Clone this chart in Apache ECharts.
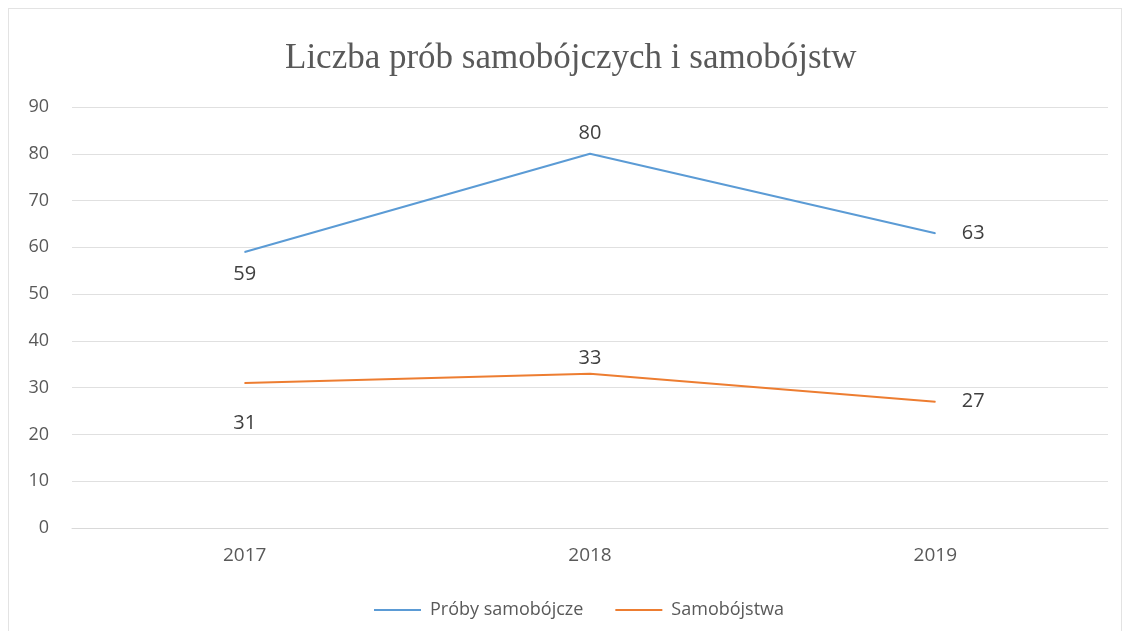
<!DOCTYPE html>
<html><head><meta charset="utf-8">
<script src="https://cdn.jsdelivr.net/npm/echarts@6/dist/echarts.min.js"></script>
<style>
html,body{margin:0;padding:0;background:#fff;}
#c{width:1130px;height:631px;}
#frame{position:absolute;left:8px;top:8px;width:1112px;height:640px;border:1px solid #e3e3e3;pointer-events:none;}
</style></head>
<body>
<div id="c"></div>
<div id="frame"></div>
<script>
const categories = ['2017', '2018', '2019'];
const proby = [59, 80, 63];
const samobojstwa = [31, 33, 27];
const yTicks = [0, 10, 20, 30, 40, 50, 60, 70, 80, 90];

// label placement per point (style only)
const probyLabelPos = [['bottom', 12], ['top', 10], ['right', 26]];
const samLabelPos = [['bottom', 30], ['top', 5], ['right', 26]];

const labelFont = {fontFamily: 'Open Sans', fontSize: 20, color: '#404040'};
function withLabels(values, pos) {
  return values.map((v, i) => ({value: v, label: {position: pos[i][0], distance: pos[i][1]}}));
}

const chart = echarts.init(document.getElementById('c'));
chart.setOption({
  animation: false,
  title: {
    text: 'Liczba prób samobójczych i samobójstw',
    left: 280, top: 36,
    textStyle: {fontFamily: 'Liberation Serif', fontSize: 35, fontWeight: 'normal', color: '#595959'}
  },
  legend: {
    top: 596, left: 369, itemWidth: 47, itemHeight: 2, itemGap: 32,
    icon: 'rect',
    textStyle: {fontFamily: 'Open Sans', fontSize: 18, color: '#595959', padding: [0, 0, 0, 4]},
    data: ['Próby samobójcze', 'Samobójstwa']
  },
  grid: {left: 72, right: 22, top: 107, bottom: 103, containLabel: false},
  xAxis: {
    type: 'category', data: categories, boundaryGap: true,
    axisLine: {lineStyle: {color: '#d9d9d9'}},
    axisTick: {show: false},
    axisLabel: {fontFamily: 'Open Sans', fontSize: 19, color: '#595959', margin: 18}
  },
  yAxis: {
    type: 'value', min: yTicks[0], max: yTicks[yTicks.length - 1], interval: 10,
    axisLine: {show: false}, axisTick: {show: false},
    splitLine: {lineStyle: {color: '#e0e0e0'}},
    axisLabel: {fontFamily: 'Open Sans', fontSize: 18, color: '#595959', margin: 23}
  },
  series: [
    {
      name: 'Próby samobójcze', type: 'line', data: withLabels(proby, probyLabelPos),
      symbol: 'circle', symbolSize: 1, showSymbol: true,
      lineStyle: {color: '#5B9BD5', width: 2}, itemStyle: {color: '#5B9BD5'},
      label: {show: true, ...labelFont}
    },
    {
      name: 'Samobójstwa', type: 'line', data: withLabels(samobojstwa, samLabelPos),
      symbol: 'circle', symbolSize: 1, showSymbol: true,
      lineStyle: {color: '#ED7D31', width: 2}, itemStyle: {color: '#ED7D31'},
      label: {show: true, ...labelFont}
    }
  ]
});
</script>
</body></html>
